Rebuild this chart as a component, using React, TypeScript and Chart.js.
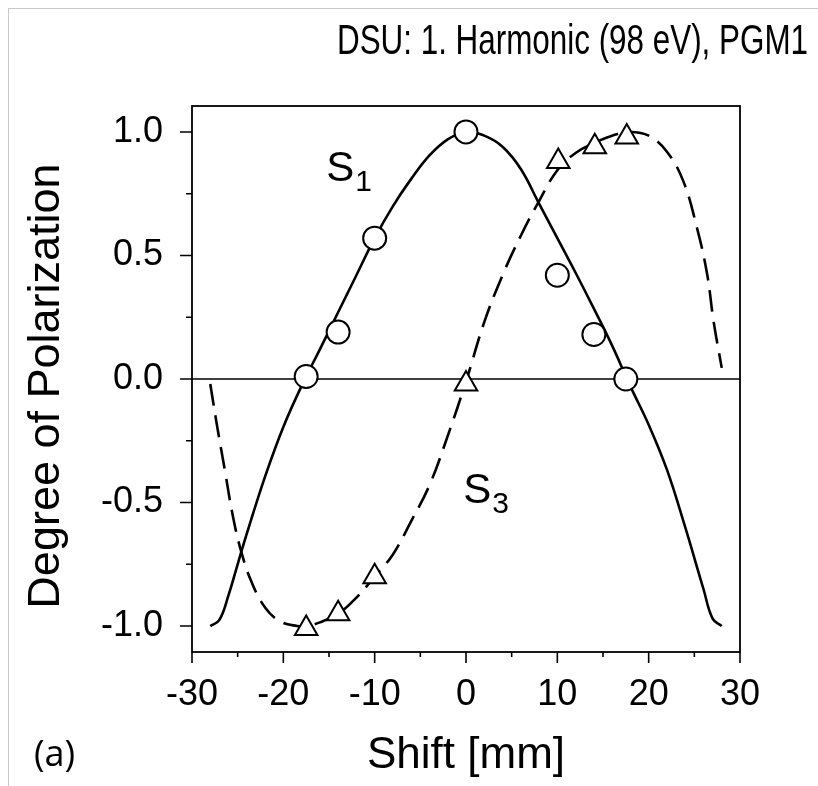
import React, { useEffect, useRef } from "react";
import { Chart, registerables } from "chart.js";

Chart.register(...registerables);

// ---------- data ----------
const s1MarkerX = [-17.5, -14, -10, 0, 10, 14, 17.5];
const s1MarkerY = [0.01, 0.19, 0.57, 1.0, 0.42, 0.18, 0.0];

const s3MarkerX = [-17.5, -14, -10, 0, 10.1, 14.1, 17.6];
const s3MarkerY = [-1.01, -0.95, -0.8, -0.02, 0.88, 0.94, 0.98];

const s1CurveX = [-28, -27, -26, -25, -24, -22, -20, -18, -16, -14, -12, -10, -8, -6, -4, -2, 0, 2, 4, 6, 8, 10, 12, 14, 16, 18, 20, 22, 24, 26, 27, 28];
const s1CurveY = [-1.0, -0.975, -0.875, -0.75, -0.626, -0.395, -0.194, -0.028, 0.12, 0.27, 0.42, 0.57, 0.7, 0.81, 0.905, 0.97, 1.0, 0.985, 0.94, 0.85, 0.71, 0.57, 0.43, 0.285, 0.135, -0.03, -0.185, -0.367, -0.6, -0.85, -0.97, -1.0];

const s3CurveX = [-28, -27.3, -26.4, -25.5, -24.6, -23.5, -22, -20.4, -18.5, -17.5, -16, -14, -12, -10, -8, -6, -4, -2, 0, 2, 4, 6, 8, 10, 12, 14, 16, 18, 20, 22, 23.8, 25.3, 26.4, 27.1, 28];
const s3CurveY = [-0.02, -0.18, -0.37, -0.56, -0.7, -0.82, -0.925, -0.98, -1.0, -1.0, -0.985, -0.95, -0.885, -0.8, -0.71, -0.575, -0.43, -0.23, -0.01, 0.23, 0.42, 0.58, 0.72, 0.845, 0.915, 0.955, 0.985, 1.0, 0.985, 0.92, 0.8, 0.61, 0.425, 0.235, 0.045];

const xTickLabels = ["-30", "-20", "-10", "0", "10", "20", "30"];
const yTickLabels = ["-1.0", "-0.5", "0.0", "0.5", "1.0"];

const titleText = "DSU: 1. Harmonic (98 eV), PGM1";
const xTitle = "Shift [mm]";
const yTitle = "Degree of Polarization";
const panelLabel = "(a)";

// ---------- helpers ----------
const pts = (xs: number[], ys: number[]) => xs.map((x, i) => ({ x, y: ys[i] }));
const findLabel = (labels: string[], v: number) => {
  const l = labels.find((s) => Math.abs(Number(s) - v) < 1e-6);
  return l === undefined ? "" : l;
};

const FONT = '"Liberation Sans", Arial, sans-serif';

const decorPlugin = {
  id: "decor",
  beforeDraw(chart: any) {
    const { ctx, width, height } = chart;
    ctx.save();
    ctx.fillStyle = "#ffffff";
    ctx.fillRect(0, 0, width, height);
    ctx.strokeStyle = "#c8c8c8";
    ctx.lineWidth = 1;
    ctx.beginPath();
    ctx.moveTo(8.5, 8);
    ctx.lineTo(8.5, height);
    ctx.moveTo(8, 8.5);
    ctx.lineTo(width, 8.5);
    ctx.stroke();
    ctx.restore();
  },
  beforeDatasetsDraw(chart: any) {
    const { ctx, chartArea } = chart;
    const y0 = chart.scales.y.getPixelForValue(0);
    ctx.save();
    ctx.strokeStyle = "#000";
    ctx.lineWidth = 1.6;
    ctx.beginPath();
    ctx.moveTo(chartArea.left, y0);
    ctx.lineTo(chartArea.right, y0);
    ctx.stroke();
    ctx.restore();
  },
  afterDatasetsDraw(chart: any) {
    const { ctx, chartArea } = chart;
    const xs = chart.scales.x;
    const ys = chart.scales.y;
    ctx.save();
    ctx.strokeStyle = "#000";
    ctx.lineWidth = 1.8;
    ctx.strokeRect(chartArea.left, chartArea.top, chartArea.right - chartArea.left, chartArea.bottom - chartArea.top);
    ctx.lineWidth = 1.6;
    ctx.beginPath();
    xs.ticks.forEach((t: any) => {
      const px = xs.getPixelForValue(t.value);
      const major = findLabel(xTickLabels, t.value) !== "";
      ctx.moveTo(px, chartArea.bottom);
      ctx.lineTo(px, chartArea.bottom + (major ? 11 : 5));
    });
    ys.ticks.forEach((t: any) => {
      const py = ys.getPixelForValue(t.value);
      const major = findLabel(yTickLabels, t.value) !== "";
      ctx.moveTo(chartArea.left, py);
      ctx.lineTo(chartArea.left - (major ? 12 : 6), py);
    });
    ctx.stroke();
    ctx.restore();
  },
  afterDraw(chart: any) {
    const { ctx, chartArea } = chart;
    const xs = chart.scales.x;
    const ys = chart.scales.y;
    ctx.save();
    ctx.fillStyle = "#000";
    ctx.textBaseline = "alphabetic";

    // title (slightly condensed)
    ctx.font = "43px " + FONT;
    const tw = ctx.measureText(titleText).width;
    ctx.save();
    ctx.translate(337, 54);
    ctx.scale(471 / tw, 1);
    ctx.textAlign = "left";
    ctx.fillText(titleText, 0, 0);
    ctx.restore();

    // x title
    ctx.font = "44px " + FONT;
    ctx.textAlign = "center";
    ctx.fillText(xTitle, (chartArea.left + chartArea.right) / 2, 768);

    // y title
    ctx.save();
    ctx.font = "45px " + FONT;
    ctx.translate(59, 386);
    ctx.rotate(-Math.PI / 2);
    ctx.textAlign = "center";
    ctx.fillText(yTitle, 0, 0);
    ctx.restore();

    // S1 / S3 labels
    const drawS = (sub: string, dx: number, dy: number) => {
      const px = xs.getPixelForValue(dx);
      const py = ys.getPixelForValue(dy);
      ctx.textAlign = "left";
      ctx.font = "42px " + FONT;
      ctx.fillText("S", px, py);
      const w = ctx.measureText("S").width;
      ctx.font = "30px " + FONT;
      ctx.fillText(sub, px + w + 1, py + 10);
    };
    drawS("1", -15.3, 0.8);
    drawS("3", -0.3, -0.5);

    // panel label
    ctx.font = '36px "Open Sans", sans-serif';
    ctx.textAlign = "left";
    ctx.fillText(panelLabel, 34, 766);
    ctx.restore();
  },
};

export default function App() {
  const ref = useRef<HTMLCanvasElement | null>(null);

  useEffect(() => {
    if (!ref.current) return;
    const chart = new Chart(ref.current, {
      type: "scatter",
      data: {
        datasets: [
          {
            label: "S1 data",
            data: pts(s1MarkerX, s1MarkerY),
            pointStyle: "circle",
            pointRadius: 11.5,
            pointHoverRadius: 11.5,
            pointBorderWidth: 2,
            pointBackgroundColor: "#ffffff",
            pointBorderColor: "#000000",
            showLine: false,
            order: 1,
          },
          {
            label: "S3 data",
            data: pts(s3MarkerX, s3MarkerY),
            pointStyle: "triangle",
            pointRadius: 13,
            pointHoverRadius: 13,
            pointBorderWidth: 2,
            pointBackgroundColor: "#ffffff",
            pointBorderColor: "#000000",
            showLine: false,
            order: 1,
          },
          {
            label: "S1 fit",
            type: "line",
            data: pts(s1CurveX, s1CurveY),
            borderColor: "#000000",
            borderWidth: 2.6,
            pointRadius: 0,
            fill: false,
            tension: 0.4,
            order: 2,
          } as any,
          {
            label: "S3 fit",
            type: "line",
            data: pts(s3CurveX, s3CurveY),
            borderColor: "#000000",
            borderWidth: 2.6,
            borderDash: [22, 10],
            pointRadius: 0,
            fill: false,
            tension: 0.4,
            order: 2,
          } as any,
        ],
      },
      options: {
        responsive: false,
        animation: false,
        devicePixelRatio: 1,
        layout: { padding: { top: 106, right: 78, left: 0, bottom: 0 } },
        plugins: {
          legend: { display: false },
          title: { display: false },
          tooltip: { enabled: false },
        },
        events: [],
        scales: {
          x: {
            type: "linear",
            min: -30,
            max: 30,
            grid: { display: false, drawTicks: false },
            border: { display: false },
            afterFit: (s: any) => {
              s.height = 134;
            },
            ticks: {
              stepSize: 5,
              autoSkip: false,
              maxRotation: 0,
              minRotation: 0,
              includeBounds: false,
              padding: 21,
              color: "#000",
              font: { family: FONT, size: 36 },
              callback: (v: any) => findLabel(xTickLabels, Number(v)),
            },
          },
          y: {
            type: "linear",
            min: -1.105,
            max: 1.105,
            grid: { display: false, drawTicks: false },
            border: { display: false },
            afterFit: (s: any) => {
              s.width = 192;
            },
            ticks: {
              stepSize: 0.25,
              autoSkip: false,
              includeBounds: false,
              padding: 29,
              color: "#000",
              font: { family: FONT, size: 36 },
              callback: (v: any) => findLabel(yTickLabels, Number(v)),
            },
          },
        },
      },
      plugins: [decorPlugin],
    } as any);
    return () => chart.destroy();
  }, []);

  return (
    <div style={{ position: "absolute", left: 0, top: 0, width: 818, height: 786 }}>
      <canvas ref={ref} width={818} height={786} style={{ display: "block" }} />
    </div>
  );
}
